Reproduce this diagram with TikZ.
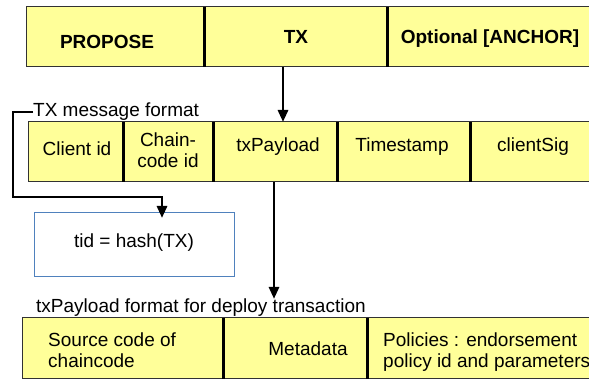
\documentclass[tikz,border=0pt]{standalone}
\usepackage{fontspec}
\setmainfont{Liberation Sans}
\usetikzlibrary{arrows.meta}
\definecolor{cellyellow}{RGB}{255,255,153}
\definecolor{edgegray}{RGB}{50,50,50}
\definecolor{tidblue}{RGB}{79,129,189}
\tikzset{
  cell/.style={fill=cellyellow, draw=none, anchor=north west, inner sep=0pt, outer sep=0pt},
  rowedge/.style={draw=edgegray, line width=1pt},
  divider/.style={draw=black, line width=3pt},
  txt/.style={inner sep=0pt, font=\fontsize{19}{21}\selectfont},
  btxt/.style={txt, font=\fontsize{19}{21}\selectfont\bfseries},
  arr/.style={draw=black, line width=2.8pt, -{Triangle[width=10pt,length=12pt]}},
  tidbox/.style={draw=tidblue, line width=0.9pt, fill=white, anchor=north west,
    minimum width=200pt, minimum height=64pt, inner sep=0pt},
}
\begin{document}
\begin{tikzpicture}[x=1pt, y=-1pt]
\useasboundingbox (0,0) rectangle (589,379);
\clip (0,0) rectangle (589,379);

% ---- top frame: PROPOSE | TX | Optional [ANCHOR]
\node[cell, minimum width=178pt, minimum height=60pt] (propose) at (26,7) {};
\node[cell, minimum width=183pt, minimum height=60pt] (tx) at (204,7) {};
\node[cell, minimum width=220pt, minimum height=60pt] (anchor) at (387,7) {};
\draw[rowedge] (26,7) rectangle (620,67);
\draw[divider] (204,7) -- (204,67);
\draw[divider] (387,7) -- (387,67);
\node[btxt] (tproposal) at (107,42) {PROPOSE};
\node[btxt] (ttx) at (296,37) {TX};
\node[btxt] (tanchor) at (490,39) {Optional [ANCHOR]};

% ---- TX message format
\node[txt, anchor=west] (msglabel) at (33,112) {TX message format};
\node[cell, minimum width=95pt, minimum height=60pt] (client) at (28,122) {};
\node[cell, minimum width=90pt, minimum height=60pt] (chain) at (123,122) {};
\node[cell, minimum width=124pt, minimum height=60pt] (txp) at (213,122) {};
\node[cell, minimum width=133pt, minimum height=60pt] (stamp) at (337,122) {};
\node[cell, minimum width=140pt, minimum height=60pt] (sig) at (470,122) {};
\draw[rowedge] (28,122) rectangle (620,182);
\draw[divider] (123,122) -- (123,182);
\draw[divider] (213,122) -- (213,182);
\draw[divider] (337,122) -- (337,182);
\draw[divider] (470,122) -- (470,182);
\node[txt] (tclient) at (77,149) {Client id};
\node[txt, align=center] (tchain) at (168,150) {Chain-\\code id};
\node[txt] (ttxp) at (278,147) {txPayload};
\node[txt] (tstamp) at (402,147) {Timestamp};
\node[txt] (tsig) at (533,147) {clientSig};

% ---- transaction id box
\node[tidbox] (tid) at (34,212) {};
\node[txt] (ttid) at (134,243) {tid = hash(TX)};

% ---- txPayload format
\node[txt, anchor=west] (paylabel) at (36,308) {txPayload format for deploy transaction};
\node[cell, minimum width=201pt, minimum height=62pt] (source) at (22,318) {};
\node[cell, minimum width=144pt, minimum height=62pt] (meta) at (223,318) {};
\node[cell, minimum width=240pt, minimum height=62pt] (policy) at (367,318) {};
\draw[rowedge] (22,318) rectangle (620,378);
\draw[divider] (223,318) -- (223,385);
\draw[divider] (367,318) -- (367,385);
\node[txt, anchor=west, align=left] (tsource) at (48,350) {Source code of\\chaincode};
\node[txt] (tmeta) at (308,349) {Metadata};
\node[txt, anchor=west, align=left] (tpolicy) at (383,352) {Policies : endorsement\\policy id and parameters};

% ---- connectors
\coordinate (ax) at (283,0);
\coordinate (bx) at (274,0);
\coordinate (cx) at (162,0);
\coordinate (lx) at (13,0);
\coordinate (ly) at (0,197);
\draw[arr] (tx.south -| ax) -- (txp.north -| ax);
\draw[arr] (txp.south -| bx) -- (bx |- paylabel.north);
\draw[arr, line join=miter] (msglabel.west) -- (msglabel.west -| lx) -- (lx |- ly)
  -- (cx |- ly) -- ([yshift=-6pt]tid.north -| cx);
\end{tikzpicture}
\end{document}
